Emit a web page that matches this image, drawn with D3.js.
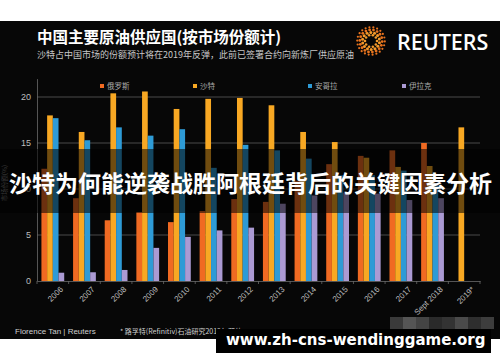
<!DOCTYPE html>
<html><head><meta charset="utf-8">
<script src="https://cdn.jsdelivr.net/npm/d3@7"></script>
<style>html,body{margin:0;padding:0;background:#fff;}svg{display:block;}</style>
</head><body>
<svg id="c" width="500" height="362"></svg>
<script>
const categories = ["2006","2007","2008","2009","2010","2011","2012","2013","2014","2015","2016","2017","Sept 2018","2019*"];
const seriesNames = ["俄罗斯","沙特","安哥拉","伊拉克"];
const russia = [12.2, 9.0, 6.6, 7.5, 6.4, 7.6, 8.9, 8.6, 10.9, 12.7, 13.6, 14.2, 15.0, null];
const saudi  = [18.0, 16.2, 20.4, 20.6, 18.7, 19.8, 19.9, 19.1, 16.2, 15.1, 13.4, 12.4, 12.5, 16.7];
const angola = [17.7, 15.3, 16.7, 15.8, 16.5, 12.3, 14.8, 14.2, 13.3, 11.5, 11.5, 12.0, 10.6, null];
const iraq   = [0.9, 0.95, 1.2, 3.6, 4.8, 5.5, 5.8, 8.4, 9.3, 9.6, 9.5, 8.8, 9.0, null];
const yTicks = [0, 5, 10, 15, 20];
const colors = ["#f06a22", "#f8a823", "#2e9bd6", "#ab9ad3"];

const svg = d3.select("#c");
// backgrounds
svg.append("rect").attr("x",0).attr("y",0).attr("width",500).attr("height",362).attr("fill","#fff");
svg.append("rect").attr("x",0).attr("y",21).attr("width",500).attr("height",318).attr("fill","#070707");

// title block
svg.append("text").attr("x",37).attr("y",43).attr("fill","#fff")
  .style("font-family","'Noto Sans CJK SC'").style("font-weight","bold").style("font-size","15.5px")
  .text("中国主要原油供应国(按市场份额计)");
svg.append("text").attr("x",37).attr("y",58).attr("fill","#c8c8c8")
  .style("font-family","'Noto Sans CJK SC'").style("font-size","9px")
  .text("沙特占中国市场的份额预计将在2019年反弹，此前已签署合约向新炼厂供应原油");

// Reuters logo
const logo = svg.append("g").attr("transform","translate(371,41)");
const rings = [{r:6,n:10,s:1.3},{r:8.6,n:14,s:1.5},{r:11.2,n:18,s:1.4},{r:13.8,n:22,s:1.1}];
rings.forEach((ring,ri)=>{
  d3.range(ring.n).forEach(i=>{
    const a = i/ring.n*2*Math.PI + ri*0.2;
    logo.append("circle").attr("cx",ring.r*Math.cos(a)).attr("cy",ring.r*Math.sin(a))
      .attr("r",ring.s).attr("fill", ri<2 ? "#f39a2b" : "#e8731e");
  });
});
svg.append("text").attr("x",397).attr("y",50).attr("fill","#fff")
  .style("font-family","'Open Sans'").style("font-weight","600").style("font-size","21.5px")
  .text("REUTERS");

// scales
const x0 = d3.scaleBand().domain(categories).range([37,480]).paddingInner(0.28).paddingOuter(0.14);
const x1 = d3.scaleBand().domain(seriesNames).range([0, x0.bandwidth()]).padding(0);
const y = d3.scaleLinear().domain([0,22]).range([281, 281-22*9.2]);

// gridlines
svg.append("g").selectAll("line").data(yTicks.filter(d=>d>0)).join("line")
  .attr("x1",37).attr("x2",480).attr("y1",d=>y(d)).attr("y2",d=>y(d))
  .attr("stroke","#5a5a5a").attr("stroke-width",0.8);

// y axis
const yAxis = svg.append("g").attr("transform","translate(37,0)")
  .call(d3.axisLeft(y).tickValues(yTicks).tickSize(0).tickPadding(6));
yAxis.select(".domain").attr("stroke","#6a6a6a").attr("stroke-width",0.8);
yAxis.selectAll("text").attr("fill","#bdbdbd").style("font-family","'Liberation Sans'").style("font-size","9px");
svg.append("text").attr("transform","translate(6.5,183) rotate(-90)").attr("text-anchor","middle")
  .attr("fill","#777").style("font-family","'Noto Sans CJK SC'").style("font-size","6.5px").text("市场份额(%)");

// legend
const legendX = [100, 193, 308, 402];
const lg = svg.append("g").selectAll("g").data(seriesNames).join("g")
  .attr("transform",(d,i)=>`translate(${legendX[i]},87)`);
lg.append("rect").attr("x",0).attr("y",-3).attr("width",4).attr("height",4).attr("fill",(d,i)=>colors[i]);
lg.append("text").attr("x",7).attr("y",2).attr("fill","#aaa")
  .style("font-family","'Noto Sans CJK SC'").style("font-size","7.5px").text(d=>d);

// bars
const seriesData = [russia, saudi, angola, iraq];
const groups = svg.append("g").selectAll("g").data(categories).join("g")
  .attr("transform",d=>`translate(${x0(d)},0)`);
groups.selectAll("rect").data((d,ci)=>seriesNames.map((s,si)=>({s, si, v: seriesData[si][ci]})).filter(o=>o.v!=null))
  .join("rect")
  .attr("x",o=>x1(o.s)).attr("width",x1.bandwidth())
  .attr("y",o=>y(o.v)).attr("height",o=>y(0)-y(o.v))
  .attr("fill",o=>colors[o.si]);

// x axis
const xAxis = svg.append("g").attr("transform","translate(0,281)")
  .call(d3.axisBottom(x0).tickSize(0).tickPadding(5));
xAxis.select(".domain").attr("stroke","#6a6a6a").attr("stroke-width",0.8);
xAxis.selectAll("text").attr("fill","#bdbdbd").style("font-family","'Liberation Sans'").style("font-size","8px")
  .attr("text-anchor","end").attr("transform","translate(4,2) rotate(-45)").attr("dy","0.7em").attr("y",4).attr("x",0);
// tick marks between groups
svg.append("g").selectAll("line").data(d3.range(categories.length+1)).join("line")
  .attr("x1",i=>37+i*x0.step()).attr("x2",i=>37+i*x0.step()).attr("y1",281).attr("y2",284)
  .attr("stroke","#6a6a6a").attr("stroke-width",0.8);

// footer
svg.append("text").attr("x",15).attr("y",334).attr("fill","#cfcfcf")
  .style("font-family","'Liberation Sans'").style("font-size","8px").text("Florence Tan | Reuters");
svg.append("text").attr("x",120).attr("y",334).attr("fill","#cfcfcf")
  .style("font-family","'Noto Sans CJK SC'").style("font-size","7px").text("* 路孚特(Refinitiv)石油研究2019年预估");

// overlay band & banner text
svg.append("rect").attr("x",0).attr("y",149).attr("width",500).attr("height",64).attr("fill","#000").attr("opacity",0.55);
svg.append("text").attr("x",9).attr("y",192).attr("fill","#fff")
  .style("font-family","'Noto Sans CJK SC'").style("font-weight","bold").style("font-size","23px")
  .text("沙特为何能逆袭战胜阿根廷背后的关键因素分析");

// mosaic
const mosaic = ["#3a3a3a","#555","#444","#2a2a2a","#333","#4a4a4a","#2e2e2e","#3d3d3d"];
svg.append("g").selectAll("rect").data(mosaic).join("rect")
  .attr("x",(d,i)=>390+i*13).attr("y",317).attr("width",13).attr("height",12).attr("fill",d=>d);

// watermark
svg.append("rect").attr("x",216).attr("y",329).attr("width",275).attr("height",24).attr("fill","#000");
svg.append("text").attr("x",226).attr("y",345).attr("fill","#fff")
  .style("font-family","'DejaVu Sans'").style("font-weight","bold").style("font-size","15px")
  .text("www.zh-cns-wendinggame.org");
</script>
</body></html>
